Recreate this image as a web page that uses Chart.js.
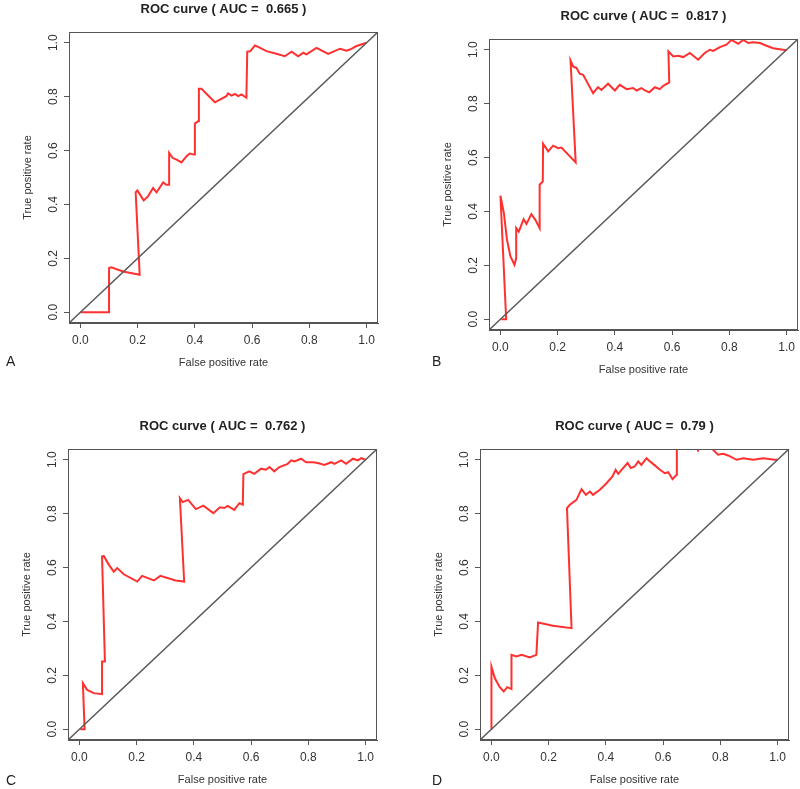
<!DOCTYPE html>
<html lang="en">
<head>
<meta charset="UTF-8">
<title>ROC curves</title>
<script src="https://cdn.jsdelivr.net/npm/chart.js"></script>
<style>
  body { margin: 0; width: 800px; height: 789px; overflow: hidden; background: #fff; position: relative; font-family: "Liberation Sans", Arial, sans-serif; }
  .panel { position: absolute; width: 371px; height: 375px; }
  .letter { position: absolute; font-size: 14px; line-height: 14px; color: #222; }
</style>
</head>
<body>
<div class="panel" style="left:9px;top:0px;"><canvas id="chartA" width="371" height="375"></canvas></div>
<div class="panel" style="left:429px;top:7px;"><canvas id="chartB" width="371" height="375"></canvas></div>
<div class="panel" style="left:8px;top:417px;"><canvas id="chartC" width="371" height="375"></canvas></div>
<div class="panel" style="left:420px;top:417px;"><canvas id="chartD" width="371" height="375"></canvas></div>
<div class="letter" style="left:6px;top:354px;">A</div>
<div class="letter" style="left:432px;top:354px;">B</div>
<div class="letter" style="left:6px;top:773px;">C</div>
<div class="letter" style="left:432px;top:773px;">D</div>

<script>
// axis ticks shared by all four panels
const tickValues = [0, 0.2, 0.4, 0.6, 0.8, 1.0];
const diagX = [-0.04, 1.04];
const diagY = [-0.04, 1.04];

// A (AUC 0.665)
const fprA = [0, 0.100, 0.100, 0.108, 0.149, 0.207, 0.193, 0.199, 0.221, 0.236, 0.254, 0.266, 0.289, 0.300, 0.310, 0.310, 0.322, 0.336, 0.353, 0.371, 0.382, 0.397, 0.400, 0.411, 0.414, 0.423, 0.470, 0.510, 0.516, 0.528, 0.540, 0.551, 0.563, 0.580, 0.583, 0.594, 0.610, 0.621, 0.650, 0.685, 0.714, 0.738, 0.761, 0.779, 0.790, 0.825, 0.866, 0.907, 0.930, 0.942, 0.965, 1.0];
const tprA = [0, 0, 0.164, 0.167, 0.151, 0.139, 0.445, 0.452, 0.415, 0.430, 0.461, 0.445, 0.482, 0.473, 0.473, 0.591, 0.573, 0.566, 0.556, 0.579, 0.589, 0.585, 0.700, 0.709, 0.829, 0.829, 0.779, 0.802, 0.812, 0.804, 0.810, 0.802, 0.808, 0.796, 0.967, 0.969, 0.990, 0.985, 0.969, 0.959, 0.950, 0.967, 0.950, 0.963, 0.957, 0.981, 0.959, 0.978, 0.971, 0.975, 0.988, 1.0];

// B (AUC 0.817)
const fprB = [0.003, 0.020, 0, 0.012, 0.023, 0.035, 0.049, 0.055, 0.055, 0.064, 0.081, 0.091, 0.108, 0.122, 0.137, 0.137, 0.148, 0.149, 0.167, 0.184, 0.202, 0.213, 0.263, 0.245, 0.254, 0.266, 0.277, 0.289, 0.324, 0.341, 0.353, 0.376, 0.400, 0.417, 0.441, 0.464, 0.476, 0.493, 0.505, 0.520, 0.540, 0.557, 0.569, 0.590, 0.587, 0.604, 0.621, 0.639, 0.662, 0.691, 0.714, 0.732, 0.744, 0.767, 0.790, 0.808, 0.831, 0.849, 0.866, 0.883, 0.907, 0.930, 0.953, 1.0];
const tprB = [0, 0, 0.458, 0.394, 0.294, 0.233, 0.202, 0.226, 0.338, 0.325, 0.371, 0.354, 0.390, 0.369, 0.338, 0.499, 0.511, 0.651, 0.623, 0.644, 0.635, 0.637, 0.582, 0.960, 0.938, 0.932, 0.911, 0.907, 0.839, 0.861, 0.851, 0.874, 0.849, 0.870, 0.854, 0.858, 0.849, 0.858, 0.849, 0.842, 0.861, 0.854, 0.866, 0.879, 0.994, 0.975, 0.978, 0.973, 0.988, 0.963, 0.988, 1.0, 0.996, 1.010, 1.019, 1.037, 1.022, 1.037, 1.025, 1.028, 1.025, 1.015, 1.006, 0.998];

// C (AUC 0.762)
const fprC = [0.003, 0.018, 0.012, 0.027, 0.050, 0.079, 0.079, 0.089, 0.079, 0.085, 0.103, 0.120, 0.132, 0.155, 0.202, 0.219, 0.260, 0.283, 0.336, 0.366, 0.351, 0.361, 0.380, 0.407, 0.433, 0.468, 0.491, 0.506, 0.518, 0.541, 0.559, 0.571, 0.573, 0.594, 0.611, 0.635, 0.652, 0.664, 0.681, 0.699, 0.728, 0.740, 0.751, 0.775, 0.792, 0.816, 0.833, 0.856, 0.880, 0.891, 0.915, 0.932, 0.956, 0.973, 0.985, 1.0];
const tprC = [0, 0, 0.171, 0.146, 0.134, 0.130, 0.251, 0.251, 0.641, 0.643, 0.610, 0.585, 0.598, 0.575, 0.548, 0.569, 0.552, 0.569, 0.552, 0.548, 0.858, 0.843, 0.851, 0.817, 0.830, 0.802, 0.824, 0.821, 0.829, 0.814, 0.839, 0.833, 0.947, 0.957, 0.948, 0.967, 0.963, 0.973, 0.957, 0.973, 0.985, 0.998, 0.994, 1.004, 0.991, 0.991, 0.988, 0.981, 0.991, 0.985, 0.998, 0.985, 1.004, 0.998, 1.006, 1.0];

// D (AUC 0.79)
const fprD = [0, 0, 0.012, 0.029, 0.043, 0.055, 0.070, 0.070, 0.087, 0.105, 0.134, 0.157, 0.163, 0.215, 0.280, 0.264, 0.274, 0.297, 0.315, 0.330, 0.344, 0.355, 0.379, 0.402, 0.423, 0.434, 0.443, 0.460, 0.476, 0.487, 0.501, 0.513, 0.524, 0.542, 0.554, 0.569, 0.589, 0.606, 0.618, 0.633, 0.647, 0.648, 0.700, 0.722, 0.740, 0.769, 0.792, 0.810, 0.827, 0.857, 0.880, 0.915, 0.950, 0.990, 1.0];
const tprD = [0, 0.232, 0.189, 0.156, 0.140, 0.156, 0.149, 0.276, 0.270, 0.276, 0.266, 0.276, 0.396, 0.384, 0.375, 0.821, 0.833, 0.851, 0.891, 0.870, 0.882, 0.870, 0.889, 0.913, 0.938, 0.963, 0.948, 0.969, 0.988, 0.969, 0.975, 0.994, 0.981, 1.006, 0.994, 0.981, 0.963, 0.950, 0.954, 0.928, 0.944, 1.10, 1.08, 1.035, 1.08, 1.043, 1.019, 1.022, 1.016, 1.0, 1.006, 1.0, 1.006, 1.0, 1.0];

const panelTitles = ['ROC curve ( AUC =  0.665 )', 'ROC curve ( AUC =  0.817 )', 'ROC curve ( AUC =  0.762 )', 'ROC curve ( AUC =  0.79 )'];
const xTitle = 'False positive rate';
const yTitle = 'True positive rate';

const FONT = '"Liberation Sans", Arial, sans-serif';
const AXIS_COLOR = '#555';

// R-style box around the plot region
const framePlugin = {
    id: 'frame',
    afterDraw(chart) {
        const a = chart.chartArea;
        const ctx = chart.ctx;
        ctx.save();
        ctx.strokeStyle = AXIS_COLOR;
        ctx.lineWidth = 1;
        ctx.strokeRect(a.left + 0.5, a.top + 0.5, a.right - a.left - 1, a.bottom - a.top - 1);
        ctx.restore();
    }
};

function toPoints(xs, ys) {
    return xs.map((x, i) => ({ x: x, y: ys[i] }));
}

function buildPanel(id, fpr, tpr, title) {
    const ctx = document.getElementById(id).getContext('2d');
    return new Chart(ctx, {
        type: 'line',
        data: {
            datasets: [{
                label: 'chance',
                data: toPoints(diagX, diagY),
                borderColor: '#5a5a5a',
                borderWidth: 1.5,
                pointRadius: 0,
                tension: 0
            }, {
                label: 'ROC',
                data: toPoints(fpr, tpr),
                borderColor: '#ff3030',
                borderWidth: 2,
                pointRadius: 0,
                tension: 0
            }]
        },
        options: {
            responsive: false,
            animation: false,
            layout: { padding: { left: 0, right: 2, top: 0, bottom: 0 } },
            scales: {
                x: {
                    type: 'linear',
                    min: -0.04,
                    max: 1.04,
                    afterBuildTicks: s => { s.ticks = tickValues.map(v => ({ value: v })); },
                    afterFit: s => { s.height = 52; },
                    grid: { drawOnChartArea: false, drawTicks: true, tickLength: 5, color: AXIS_COLOR },
                    border: { display: true, color: AXIS_COLOR },
                    ticks: {
                        padding: 5,
                        maxRotation: 0,
                        color: '#333',
                        font: { family: FONT, size: 12 },
                        callback: v => Number(v).toFixed(1)
                    },
                    title: {
                        display: true,
                        text: xTitle,
                        color: '#333',
                        font: { family: FONT, size: 11 },
                        padding: { top: 0, bottom: 5.4 }
                    }
                },
                y: {
                    type: 'linear',
                    min: -0.04,
                    max: 1.04,
                    afterBuildTicks: s => { s.ticks = tickValues.map(v => ({ value: v })); },
                    afterFit: s => { s.width = 60; },
                    grid: { drawOnChartArea: false, drawTicks: true, tickLength: 5, color: AXIS_COLOR },
                    border: { display: true, color: AXIS_COLOR },
                    ticks: {
                        padding: 2,
                        minRotation: 90,
                        maxRotation: 90,
                        crossAlign: 'center',
                        color: '#333',
                        font: { family: FONT, size: 12 },
                        callback: v => Number(v).toFixed(1)
                    },
                    title: {
                        display: true,
                        text: yTitle,
                        color: '#333',
                        font: { family: FONT, size: 11 },
                        padding: { top: 12.4, bottom: 0 }
                    }
                }
            },
            plugins: {
                legend: { display: false },
                tooltip: { enabled: false },
                title: {
                    display: true,
                    fullSize: false,
                    text: title,
                    color: '#222',
                    font: { family: FONT, size: 13, weight: 'bold', lineHeight: 1.2 },
                    padding: { top: 1.4, bottom: 15 }
                }
            }
        },
        plugins: [framePlugin]
    });
}

buildPanel('chartA', fprA, tprA, panelTitles[0]);
buildPanel('chartB', fprB, tprB, panelTitles[1]);
buildPanel('chartC', fprC, tprC, panelTitles[2]);
buildPanel('chartD', fprD, tprD, panelTitles[3]);
</script>
</body>
</html>
